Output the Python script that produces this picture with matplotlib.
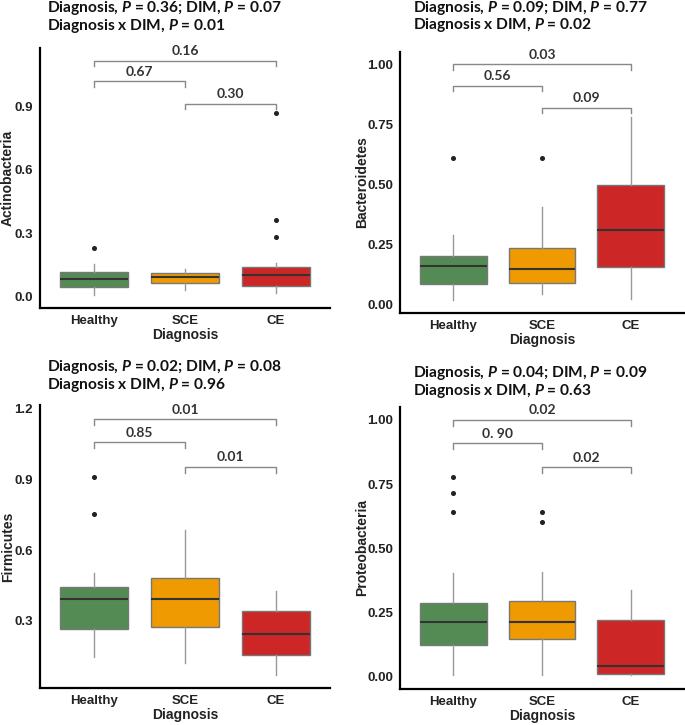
import matplotlib
matplotlib.use('Agg')
import matplotlib.pyplot as plt

plt.rcParams['font.family'] = 'Liberation Sans'
plt.rcParams['font.weight'] = 'bold'
plt.rcParams['mathtext.fontset'] = 'custom'
plt.rcParams['mathtext.rm'] = 'Lato:bold'
plt.rcParams['mathtext.it'] = 'Lato:bold:italic'
plt.rcParams['mathtext.bf'] = 'Lato:bold'

groups = ['Healthy', 'SCE', 'CE']
colors = ['#548B54', '#EE9A00', '#CD2626']

# box stats per group: Healthy, SCE, CE
actino_low = [0.009, 0.033, 0.020]
actino_q1 = [0.049, 0.065, 0.052]
actino_med = [0.083, 0.096, 0.104]
actino_q3 = [0.119, 0.112, 0.140]
actino_high = [0.156, 0.131, 0.159]
actino_out = [[0.230], [], [0.284, 0.364, 0.869]]
actino_p = ['0.36', '0.07', '0.01']
actino_pairs = ['0.67', '0.30', '0.16']

bacte_low = [0.018, 0.043, 0.021]
bacte_q1 = [0.085, 0.090, 0.157]
bacte_med = [0.160, 0.149, 0.310]
bacte_q3 = [0.201, 0.235, 0.497]
bacte_high = [0.289, 0.407, 0.782]
bacte_out = [[0.608], [0.611], []]
bacte_p = ['0.09', '0.77', '0.02']
bacte_pairs = ['0.56', '0.09', '0.03']

firmi_low = [0.149, 0.121, 0.071]
firmi_q1 = [0.265, 0.276, 0.156]
firmi_med = [0.395, 0.392, 0.244]
firmi_q3 = [0.445, 0.481, 0.344]
firmi_high = [0.502, 0.686, 0.429]
firmi_out = [[0.755, 0.909], [], []]
firmi_p = ['0.02', '0.08', '0.96']
firmi_pairs = ['0.85', '0.01', '0.01']

prote_low = [0.006, 0.006, 0.006]
prote_q1 = [0.123, 0.147, 0.013]
prote_med = [0.212, 0.212, 0.042]
prote_q3 = [0.286, 0.294, 0.223]
prote_high = [0.405, 0.409, 0.340]
prote_out = [[0.640, 0.717, 0.777], [0.601, 0.643], []]
prote_p = ['0.04', '0.09', '0.63']
prote_pairs = ['0. 90', '0.02', '0.02']

panels = [
    dict(name='Actinobacteria', low=actino_low, q1=actino_q1, med=actino_med, q3=actino_q3,
         high=actino_high, out=actino_out, p=actino_p, pairs=actino_pairs,
         rect=(40, 48, 330, 308), ylim=(-0.052, 1.175), ticks=[0.0, 0.3, 0.6, 0.9], fmt='%.1f',
         brk=[1.018, 0.911, 1.115], drop=0.026, title=(47, 8, 26), ylab_x=8),
    dict(name='Bacteroidetes', low=bacte_low, q1=bacte_q1, med=bacte_med, q3=bacte_q3,
         high=bacte_high, out=bacte_out, p=bacte_p, pairs=bacte_pairs,
         rect=(400, 52, 684, 313), ylim=(-0.036, 1.051), ticks=[0, 0.25, 0.5, 0.75, 1.0], fmt='%.2f',
         brk=[0.91, 0.819, 1.0], drop=0.023, title=(413, 8, 25), ylab_x=362),
    dict(name='Firmicutes', low=firmi_low, q1=firmi_q1, med=firmi_med, q3=firmi_q3,
         high=firmi_high, out=firmi_out, p=firmi_p, pairs=firmi_pairs,
         rect=(40, 405, 330, 688), ylim=(0.016, 1.215), ticks=[0.3, 0.6, 0.9, 1.2], fmt='%.1f',
         brk=[1.057, 0.954, 1.155], drop=0.026, title=(47, 367, 385), ylab_x=8),
    dict(name='Proteobacteria', low=prote_low, q1=prote_q1, med=prote_med, q3=prote_q3,
         high=prote_high, out=prote_out, p=prote_p, pairs=prote_pairs,
         rect=(400, 407, 684, 689), ylim=(-0.047, 1.05), ticks=[0, 0.25, 0.5, 0.75, 1.0], fmt='%.2f',
         brk=[0.909, 0.816, 1.0], drop=0.023, title=(413, 373, 391), ylab_x=362),
]

W, H = 685, 725
fig = plt.figure(figsize=(W / 100, H / 100), dpi=100)

for pn in panels:
    l, t, r, b = pn['rect']
    ax = fig.add_axes([l / W, 1 - b / H, (r - l) / W, (b - t) / H])
    stats = []
    for i, g in enumerate(groups):
        stats.append(dict(label=g, whislo=pn['low'][i], q1=pn['q1'][i], med=pn['med'][i],
                          q3=pn['q3'][i], whishi=pn['high'][i], fliers=pn['out'][i]))
    bp = ax.bxp(stats, positions=[1, 2, 3], widths=0.75, patch_artist=True, showcaps=False,
                boxprops=dict(edgecolor='#777777', linewidth=1.0),
                medianprops=dict(color='#333333', linewidth=1.5),
                whiskerprops=dict(color='#999999', linewidth=1.0),
                flierprops=dict(marker='o', markersize=2.6, markerfacecolor='#222222',
                                markeredgecolor='#222222'))
    for patch, c in zip(bp['boxes'], colors):
        patch.set_facecolor(c)

    # significance brackets: Healthy-SCE, SCE-CE, Healthy-CE
    for (x1, x2), yb, lab in zip([(1, 2), (2, 3), (1, 3)], pn['brk'], pn['pairs']):
        ax.plot([x1, x1, x2, x2], [yb - pn['drop'], yb, yb, yb - pn['drop']],
                color='#888888', linewidth=1.0, clip_on=False)
        ax.annotate(lab, xy=((x1 + x2) / 2, yb), xytext=(0, 2.5), textcoords='offset points',
                    ha='center', va='bottom', fontsize=10, fontweight='bold',
                    family='Lato', color='#333333', annotation_clip=False)

    ax.set_xlim(0.4, 3.6)
    ax.set_ylim(*pn['ylim'])
    ax.set_yticks(pn['ticks'])
    ax.set_yticklabels([pn['fmt'] % v for v in pn['ticks']], fontweight='bold',
                       fontsize=9.5, color='#222222')
    ax.set_xticks([1, 2, 3])
    ax.set_xticklabels(groups, fontweight='bold', fontsize=9.5, color='#222222')
    for s in ['top', 'right']:
        ax.spines[s].set_visible(False)
    for s in ['left', 'bottom']:
        ax.spines[s].set_linewidth(1.6)
        ax.spines[s].set_color('black')
    ax.tick_params(length=0, pad=5)
    ax.set_xlabel('Diagnosis', fontsize=10, fontweight='bold', color='#222222', labelpad=1)
    ax.set_ylabel(pn['name'], fontsize=10, fontweight='bold', color='#222222', va='center')
    ax.yaxis.set_label_coords((pn['ylab_x'] - l) / (r - l), 0.5)

    tx, ty1, ty2 = pn['title']
    p = pn['p']
    fig.text(tx / W, 1 - ty1 / H, 'Diagnosis, $P$ = %s; DIM, $P$ = %s' % (p[0], p[1]),
             ha='left', va='center', fontsize=11.2, fontweight='bold', family='Lato',
             color='#111111')
    fig.text(tx / W, 1 - ty2 / H, 'Diagnosis x DIM, $P$ = %s' % p[2],
             ha='left', va='center', fontsize=11.2, fontweight='bold', family='Lato',
             color='#111111')

fig.savefig('out.png', dpi=100)
